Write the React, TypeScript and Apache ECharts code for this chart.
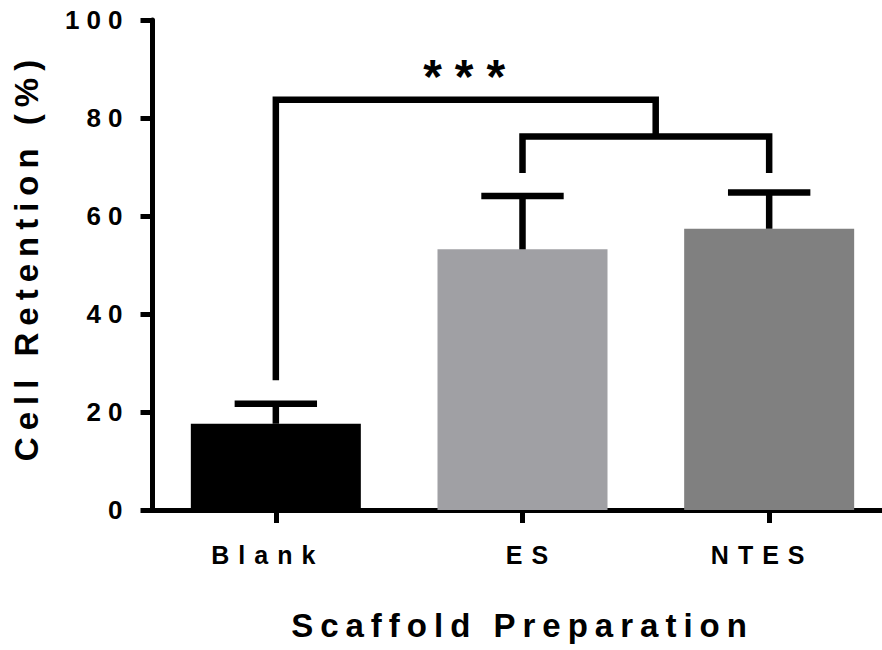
import React, { useEffect, useRef } from 'react';
import * as echarts from 'echarts';

// ---- data ----
const categories = ['Blank', 'ES', 'NTES'];
const meanRetention = [17.6, 53.2, 57.4];
const upperError = [21.7, 64.1, 64.8];
const barColors = ['#000000', '#a0a0a4', '#808080'];

// significance bracket (x in category index units, y in % units)
const bracketOuter = [[0, 26.5], [0, 83.7], [1.54, 83.7], [1.54, 76.2]];
const bracketInner = [[1, 68.8], [1, 76.2], [2, 76.2], [2, 68.8]];
const significanceText = '***';
const significancePos = [0.79, 88.5];

const yMin = 0;
const yMax = 100;
const yInterval = 20;
const xAxisName = 'Scaffold Preparation';
const yAxisName = 'Cell Retention (%)';

const FONT = "'Liberation Sans', Arial, Helvetica, sans-serif";

const spacingMap: Record<string, number> = {};
categories.forEach((c) => (spacingMap[c] = 9));
spacingMap[xAxisName] = 7;
spacingMap[yAxisName] = 7;
spacingMap[significanceText] = 13;

function applyLetterSpacing(root: HTMLElement) {
  root.querySelectorAll('text').forEach((t) => {
    const s = (t.textContent || '').trim();
    let ls = spacingMap[s];
    if (ls === undefined && /^\d+$/.test(s)) ls = 7;
    if (ls !== undefined) {
      t.setAttribute('letter-spacing', ls + 'px');
      (t as any).style.letterSpacing = ls + 'px';
    }
  });
}

export default function App() {
  const ref = useRef<HTMLDivElement>(null);
  useEffect(() => {
    document.body.style.margin = '0';
    const el = ref.current!;
    const chart = echarts.init(el, undefined, { renderer: 'svg' });
    const lineW = 6.5;

    // interpolate a fractional category position between neighbouring bands
    const coordAt = (api: any, p: number[]) => {
      const i0 = Math.floor(p[0]);
      const f = p[0] - i0;
      const a = api.coord([i0, p[1]]);
      if (f === 0) return a;
      const b = api.coord([i0 + 1, p[1]]);
      return [a[0] + (b[0] - a[0]) * f, a[1]];
    };

    const labelFont = { fontFamily: FONT, fontWeight: 'bold', fontSize: 25, color: '#000' };

    const option: any = {
      animation: false,
      backgroundColor: '#ffffff',
      grid: { left: 152.5, top: 20, width: 740, height: 490, containLabel: false, outerBoundsMode: 'none' },
      xAxis: {
        type: 'category',
        data: categories,
        boundaryGap: true,
        name: xAxisName,
        nameLocation: 'middle',
        nameGap: 99,
        nameTextStyle: { fontFamily: FONT, fontWeight: 'bold', fontSize: 33, color: '#000' },
        axisLine: { show: true, lineStyle: { color: '#000', width: 5 } },
        axisTick: { show: true, alignWithLabel: true, length: 13, lineStyle: { color: '#000', width: 5 } },
        axisLabel: {
          margin: 32,
          ...labelFont,
          formatter: (v: string, i: number) => `{c${i}|${v}}`,
          rich: {
            c0: { ...labelFont, padding: [0, 16, 0, 0] },
            c1: { ...labelFont, padding: [0, 0, 0, 18] },
            c2: { ...labelFont, padding: [0, 14, 0, 0] },
          },
        },
        splitLine: { show: false },
      },
      yAxis: {
        type: 'value',
        min: yMin,
        max: yMax,
        interval: yInterval,
        name: yAxisName,
        nameLocation: 'middle',
        nameGap: 110,
        nameTextStyle: {
          fontFamily: FONT,
          fontWeight: 'bold',
          fontSize: 33,
          color: '#000',
          padding: [0, 0, 0, 16],
        },
        axisLine: { show: true, lineStyle: { color: '#000', width: 5 } },
        axisTick: { show: true, length: 12, lineStyle: { color: '#000', width: 5 } },
        axisLabel: { margin: 23, fontFamily: FONT, fontWeight: 'bold', fontSize: 26, color: '#000' },
        splitLine: { show: false },
      },
      series: [
        {
          type: 'bar',
          barWidth: 170,
          data: meanRetention.map((v, i) => ({ value: v, itemStyle: { color: barColors[i] } })),
          z: 2,
        },
        {
          type: 'custom',
          z: 3,
          clip: false,
          encode: { x: 0, y: [1, 2] },
          data: meanRetention.map((v, i) => [i, v, upperError[i]]),
          renderItem: (params: any, api: any) => {
            const x = api.value(0);
            const lo = api.coord([x, api.value(1)]);
            const hi = api.coord([x, api.value(2)]);
            const half = api.size([1, 0])[0] * 0.167;
            const style = { stroke: '#000', lineWidth: lineW, lineCap: 'butt' };
            return {
              type: 'group',
              children: [
                { type: 'line', shape: { x1: lo[0], y1: lo[1], x2: hi[0], y2: hi[1] }, style },
                { type: 'line', shape: { x1: hi[0] - half, y1: hi[1], x2: hi[0] + half, y2: hi[1] }, style },
              ],
            };
          },
        },
        {
          type: 'custom',
          z: 4,
          clip: false,
          data: [[0, 0]],
          renderItem: (params: any, api: any) => {
            const style = { stroke: '#000', fill: null, lineWidth: lineW, lineCap: 'butt', lineJoin: 'miter' };
            const outer = bracketOuter.map((p) => coordAt(api, p));
            const inner = bracketInner.map((p) => coordAt(api, p));
            const sp = coordAt(api, significancePos);
            return {
              type: 'group',
              children: [
                { type: 'polyline', shape: { points: outer }, style },
                { type: 'polyline', shape: { points: inner }, style },
                {
                  type: 'text',
                  x: sp[0],
                  y: sp[1],
                  style: {
                    text: significanceText,
                    fontFamily: FONT,
                    fontWeight: 'bold',
                    fontSize: 48,
                    fill: '#000',
                    align: 'center',
                    verticalAlign: 'middle',
                  },
                },
              ],
            };
          },
        },
      ],
    };
    chart.setOption(option);
    applyLetterSpacing(el);
    chart.on('finished', () => applyLetterSpacing(el));
    return () => {
      chart.dispose();
    };
  }, []);
  return (
    <div
      ref={ref}
      style={{ position: 'fixed', left: 0, top: 0, width: 882, height: 650, background: '#fff' }}
    />
  );
}
